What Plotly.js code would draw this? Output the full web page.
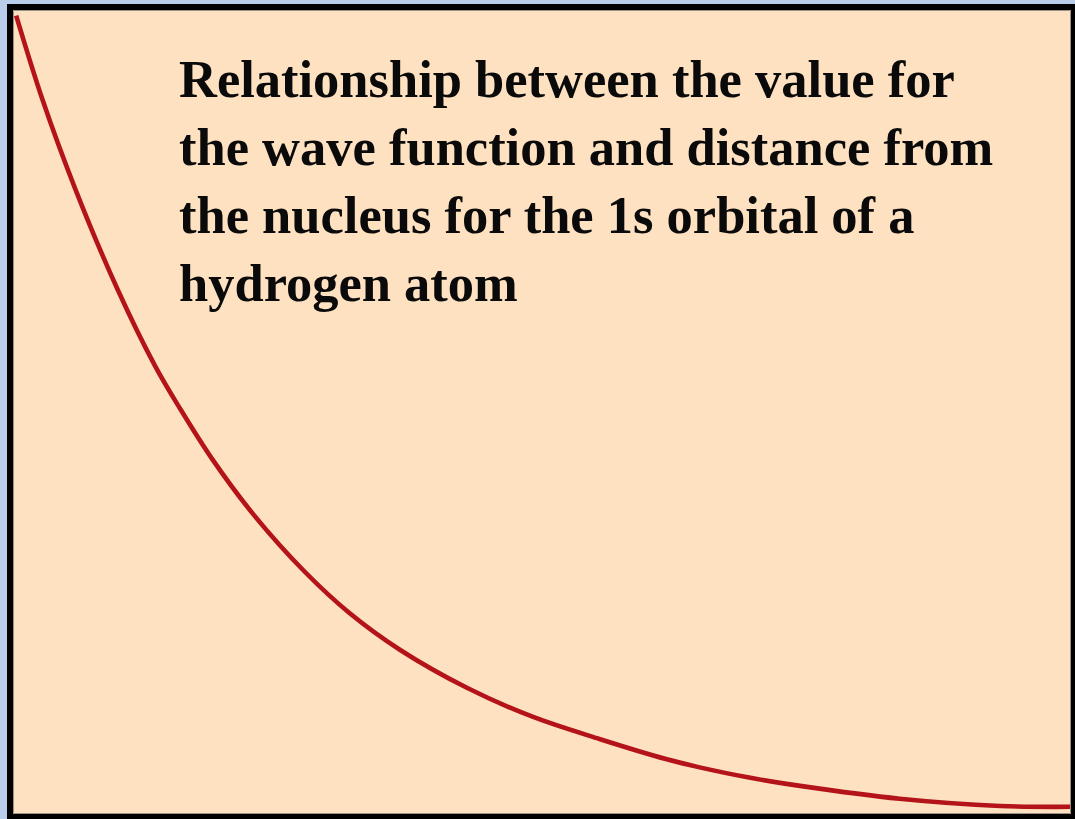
<!DOCTYPE html>
<html>
<head>
<meta charset="utf-8">
<script src="https://cdn.plot.ly/plotly-3.0.1.min.js"></script>
<style>
  html, body { margin: 0; padding: 0; background: #b9cdea; overflow: hidden; }
  #chart { position: absolute; left: 7px; top: 4px; width: 1068px; height: 815px; }
</style>
</head>
<body>
<div id="chart"></div>
<script>
// Distance from the nucleus (arbitrary units) and the 1s wave function value
const distance = [0.03, 0.28, 0.59, 0.99, 1.34, 1.58, 1.88, 2.27, 2.76, 3.18, 3.66, 4.29, 4.91, 5.55, 6.18, 6.49, 6.97, 7.44, 8.38, 9.33, 10.05];
const psi      = [0.993, 0.888, 0.777, 0.652, 0.558, 0.504, 0.442, 0.373, 0.301, 0.250, 0.204, 0.157, 0.121, 0.093, 0.068, 0.058, 0.045, 0.035, 0.019, 0.010, 0.009];

// Caption lines
const captionLines = [
  "Relationship between the value for",
  "the wave function and distance from",
  "the nucleus for the 1s orbital of a",
  "hydrogen atom"
];

const trace = {
  x: distance,
  y: psi,
  type: 'scatter',
  mode: 'lines',
  line: { color: '#b31319', width: 4.6, shape: 'spline', smoothing: 1 },
  hoverinfo: 'skip'
};

const plotW = 1058, plotH = 804;
const annotations = captionLines.map((t, i) => ({
  text: '<b>' + t + '</b>',
  xref: 'paper', yref: 'paper',
  x: (177 - 13) / plotW,
  y: (plotH - (79 - 10) - i * 68) / plotH,
  xanchor: 'left', yanchor: 'middle',
  showarrow: false,
  font: { family: 'Liberation Serif, Times New Roman, serif', size: 52.5, color: '#0a0a0a' }
}));

const axisCommon = {
  showgrid: false, zeroline: false, showticklabels: false, ticks: '',
  showline: false, fixedrange: true
};

const layout = {
  width: 1068, height: 815,
  margin: { l: 6, r: 4, t: 6, b: 5, pad: 0 },
  paper_bgcolor: '#000000',
  plot_bgcolor: '#fee1c0',
  showlegend: false,
  xaxis: Object.assign({ range: [0, 10] }, axisCommon),
  yaxis: Object.assign({ range: [0, 1] }, axisCommon),
  annotations: annotations,
  shapes: [
    // heavy black frame around the plotting area
    {
      type: 'rect', xref: 'paper', yref: 'paper', layer: 'above',
      x0: -3 / plotW, x1: 1 + 3 / plotW, y0: -3 / plotH, y1: 1 + 3 / plotH,
      line: { color: '#000000', width: 6 }, fillcolor: 'rgba(0,0,0,0)'
    },
    // thin grey inner edge of the frame
    {
      type: 'rect', xref: 'paper', yref: 'paper', layer: 'above',
      x0: 0.5 / plotW, x1: 1 - 0.5 / plotW, y0: 0.5 / plotH, y1: 1 - 0.5 / plotH,
      line: { color: '#9a8f84', width: 1 }, fillcolor: 'rgba(0,0,0,0)'
    }
  ]
};

Plotly.newPlot('chart', [trace], layout, { displayModeBar: false, staticPlot: true });
</script>
</body>
</html>
